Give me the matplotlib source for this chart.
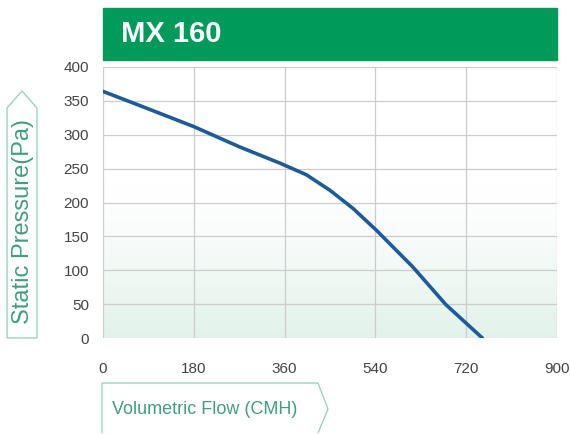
import numpy as np
import matplotlib.pyplot as plt
from matplotlib.patches import Polygon, Rectangle

# curve
flow = [0, 94, 180, 271, 351, 403, 450, 496, 542, 614, 680, 752]
pressure = [364, 337, 312, 282, 258, 241, 218, 191, 159, 105, 49, 0]

x_ticks = [0, 180, 360, 540, 720, 900]
y_ticks = [0, 50, 100, 150, 200, 250, 300, 350, 400]
title = "MX 160"
x_label = "Volumetric Flow (CMH)"
y_label = "Static Pressure(Pa)"

green = "#009a5a"
teal = "#3f9f82"
box_edge = "#9fd3bb"
tick_font = ["Liberation Sans", "DejaVu Sans"]

fig = plt.figure(figsize=(5.71, 4.34), dpi=100)
W, H = 571, 434

def fx(px):
    return px / W

def fy(py):
    return 1 - py / H

ax = fig.add_axes([fx(103), fy(338), fx(557) - fx(103), fy(67) - fy(338)])

# soft green fade at the bottom of the plot
grad = np.linspace(1, 0, 256).reshape(-1, 1) ** 1.3
cmap = plt.matplotlib.colors.LinearSegmentedColormap.from_list("g", ["#ffffff", "#e2f2ea"])
ax.imshow(grad, extent=[0, 900, 0, 230], aspect="auto", cmap=cmap, origin="lower",
          zorder=0, vmin=0, vmax=1)

ax.plot(flow, pressure, color="#1d5c9c", lw=2.6, solid_capstyle="round",
        solid_joinstyle="round", zorder=3)

ax.set_xlim(0, 900)
ax.set_ylim(0, 400)
ax.set_xticks(x_ticks)
ax.set_yticks(y_ticks)
ax.grid(True, color="#cccccc", lw=0.9)
ax.set_axisbelow(True)
for s in ax.spines.values():
    s.set_visible(False)
ax.tick_params(length=0, colors="#444444", labelsize=11)
ax.tick_params(axis="x", pad=17)
ax.tick_params(axis="y", pad=10)
for lab in ax.get_xticklabels() + ax.get_yticklabels():
    lab.set_family(tick_font)

# title banner
fig.patches.append(Rectangle((fx(103), fy(60)), fx(557) - fx(103), fy(8) - fy(60),
                             transform=fig.transFigure, color=green, zorder=1))
fig.text(fx(121), fy(34), title, color="white", fontsize=21, fontweight="bold",
         family=["Liberation Sans", "DejaVu Sans"], va="center", ha="left")

# y label arrow box
ybox = [(7, 338), (37, 338), (37, 108), (22, 91), (7, 108)]
fig.patches.append(Polygon([(fx(a), fy(b)) for a, b in ybox], closed=True,
                           transform=fig.transFigure, fill=False, ec=box_edge, lw=1))
fig.text(fx(23), fy(221), y_label, color=teal, fontsize=17, rotation=90,
         family=tick_font, va="center", ha="center")

# x label arrow box
xbox = [(102, 433), (102, 383), (318, 383), (328, 409), (318, 433)]
fig.patches.append(Polygon([(fx(a), fy(b)) for a, b in xbox], closed=False,
                           transform=fig.transFigure, fill=False, ec=box_edge, lw=1))
fig.text(fx(112), fy(409), x_label, color=teal, fontsize=13,
         family=tick_font, va="center", ha="left")

fig.savefig("out.png", dpi=100)
